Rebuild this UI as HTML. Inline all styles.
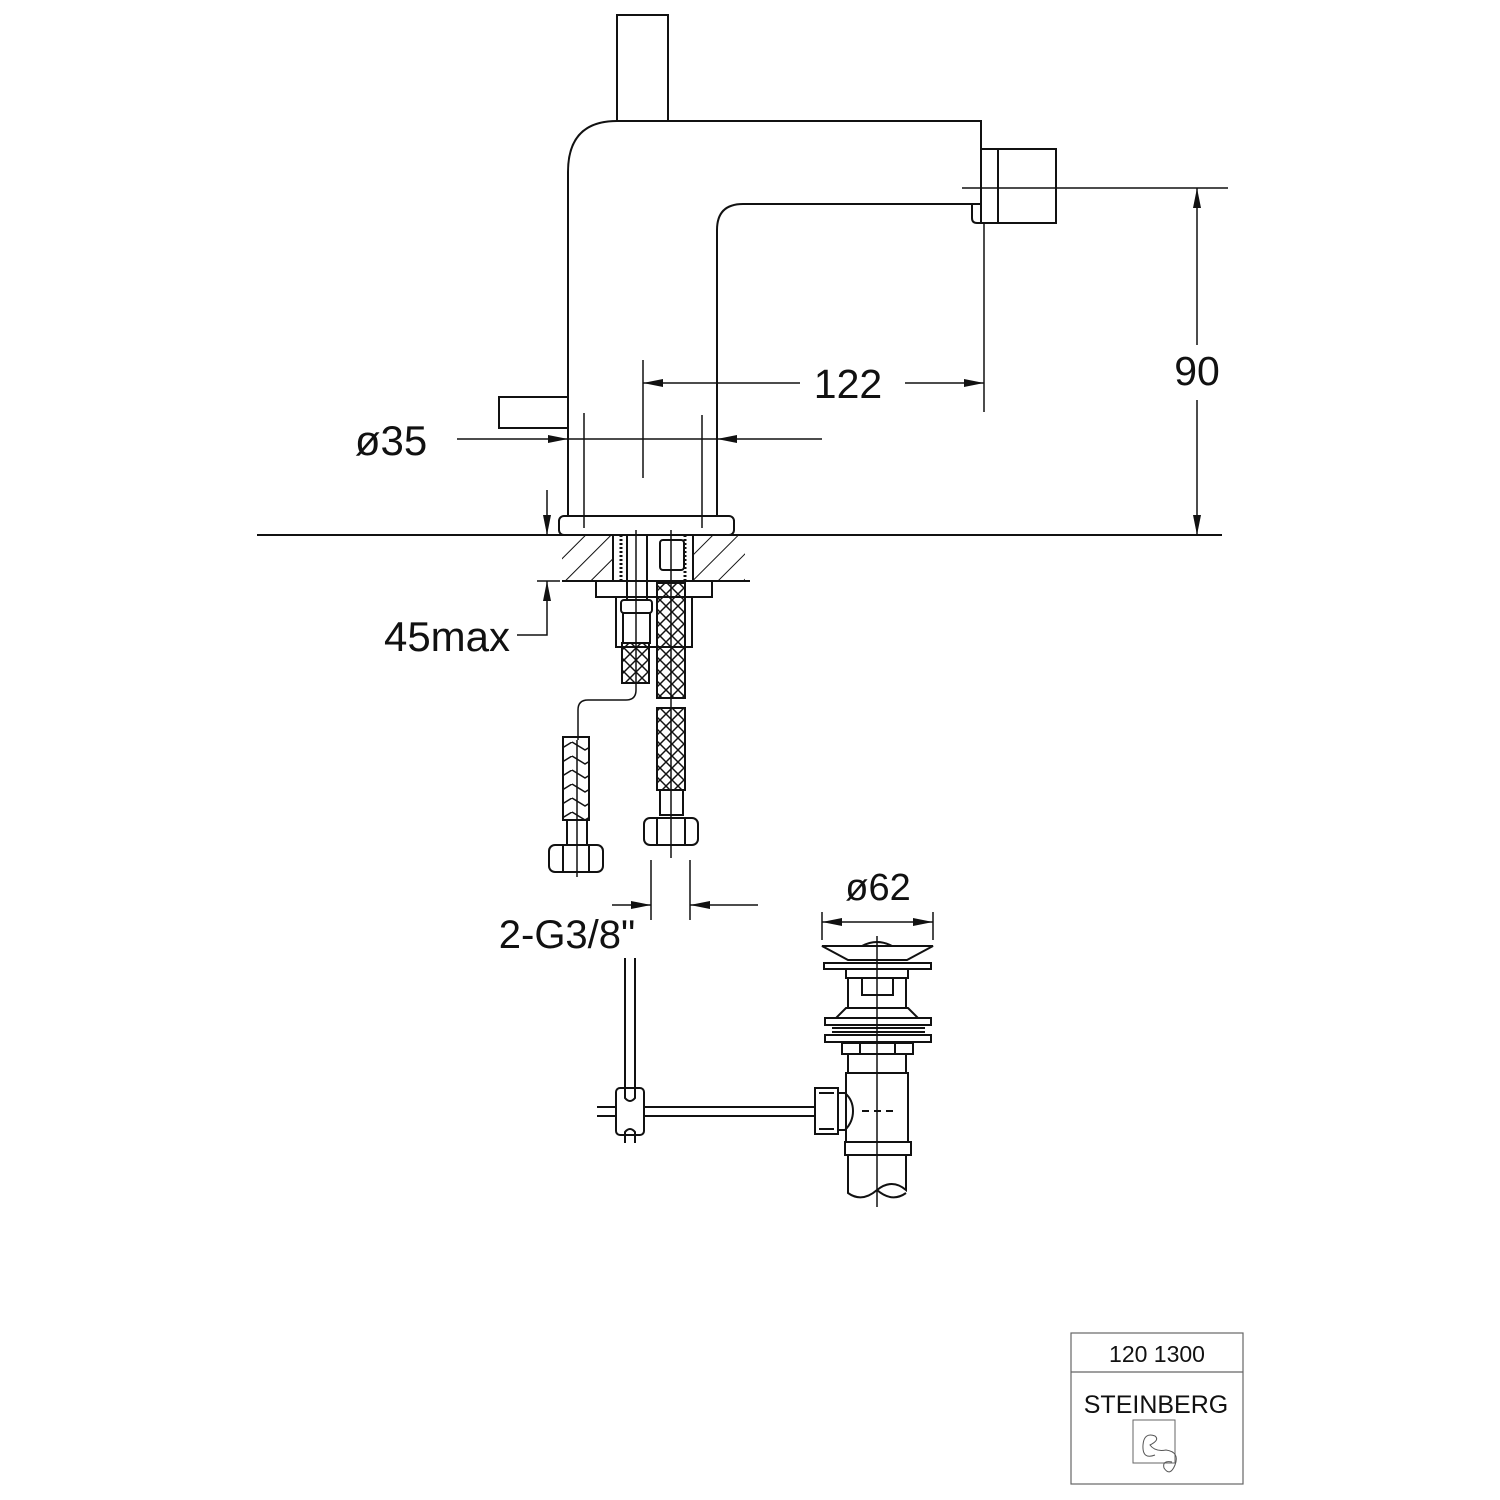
<!DOCTYPE html>
<html><head><style>html,body{margin:0;padding:0;background:#fff}svg{display:block}text{font-family:"Liberation Sans",sans-serif;fill:#111}</style></head>
<body>
<svg width="1500" height="1500" viewBox="0 0 1500 1500" xmlns="http://www.w3.org/2000/svg">
<defs>
<marker id="a" viewBox="0 0 20 8" refX="20" refY="4" markerWidth="20" markerHeight="8" markerUnits="userSpaceOnUse" orient="auto"><path d="M0,0L20,4L0,8z" fill="#111"/></marker>
<marker id="b" viewBox="0 0 20 8" refX="0" refY="4" markerWidth="20" markerHeight="8" markerUnits="userSpaceOnUse" orient="auto"><path d="M20,0L0,4L20,8z" fill="#111"/></marker>
<pattern id="x" width="12" height="12" patternUnits="userSpaceOnUse"><path d="M0,0L12,12M12,0L0,12" stroke="#111" stroke-width="1.5"/></pattern>
<pattern id="h" width="18" height="18" patternUnits="userSpaceOnUse" patternTransform="rotate(45)"><path d="M0,0V18" stroke="#111" stroke-width="2"/></pattern>
<pattern id="c" width="26" height="14" patternUnits="userSpaceOnUse"><path d="M0,0L13,8L26,0M0,14L13,22" stroke="#111" stroke-width="1.5" fill="none"/></pattern>
</defs>
<g fill="none" stroke="#111" stroke-width="2">
<rect x="617" y="15" width="51" height="106"/>
<path d="M568,516 V172 Q568,121 617,121 H981 V204 H743 Q717,204 717,230 V516"/>
<rect x="981" y="149" width="75" height="74"/>
<line x1="998" y1="149" x2="998" y2="223"/>
<path d="M972,204 V218 Q972,223 977,223 H998"/>
<rect x="499" y="397" width="69" height="31"/>
<rect x="559" y="516" width="175" height="19" rx="5"/>
<line x1="257" y1="535" x2="1222" y2="535"/>
<rect x="562" y="535" width="51" height="46" fill="url(#h)" stroke="none"/>
<rect x="693" y="535" width="52" height="46" fill="url(#h)" stroke="none"/>
<line x1="562" y1="581" x2="750" y2="581"/>
<line x1="613" y1="535" x2="613" y2="581"/><line x1="621" y1="535" x2="621" y2="581" stroke-dasharray="2 2" stroke-width="3"/>
<line x1="693" y1="535" x2="693" y2="581"/><line x1="685" y1="535" x2="685" y2="581" stroke-dasharray="2 2" stroke-width="3"/>
<rect x="596" y="581" width="116" height="16"/>
<rect x="616" y="597" width="76" height="50"/>
<line x1="627" y1="535" x2="627" y2="600"/><line x1="647" y1="535" x2="647" y2="600"/>
<rect x="621" y="600" width="31" height="13" rx="3"/>
<rect x="623" y="613" width="27" height="30"/>
<rect x="622" y="643" width="27" height="40" fill="url(#x)"/>
<path d="M636,530 V690 Q636,700 626,700 H588 Q578,700 578,710 V740" stroke-width="1.5"/>
<rect x="563" y="737" width="26" height="83" fill="url(#c)"/>
<rect x="567" y="820" width="20" height="25"/>
<rect x="549" y="845" width="54" height="27" rx="6"/>
<line x1="563" y1="845" x2="563" y2="872"/><line x1="589" y1="845" x2="589" y2="872"/>
<line x1="577" y1="740" x2="577" y2="877" stroke-width="1.5"/>
<rect x="660" y="540" width="24" height="30" rx="3"/>
<rect x="657" y="583" width="28" height="115" fill="url(#x)"/>
<rect x="657" y="708" width="28" height="82" fill="url(#x)"/>
<rect x="660" y="790" width="23" height="25"/>
<rect x="644" y="818" width="54" height="27" rx="6"/>
<line x1="657" y1="818" x2="657" y2="845"/><line x1="685" y1="818" x2="685" y2="845"/>
<line x1="671" y1="530" x2="671" y2="858" stroke-width="1.5"/>
<!-- dims -->
<line x1="962" y1="188" x2="1228" y2="188" stroke-width="1.5"/>
<line x1="1197" y1="345" x2="1197" y2="188" stroke-width="1.5" marker-end="url(#a)"/>
<line x1="1197" y1="400" x2="1197" y2="535" stroke-width="1.5" marker-end="url(#a)"/>
<line x1="984" y1="223" x2="984" y2="412" stroke-width="1.5"/>
<line x1="643" y1="360" x2="643" y2="478" stroke-width="1.5"/>
<line x1="800" y1="383" x2="643" y2="383" stroke-width="1.5" marker-end="url(#a)"/>
<line x1="905" y1="383" x2="984" y2="383" stroke-width="1.5" marker-end="url(#a)"/>
<line x1="584" y1="413" x2="584" y2="528" stroke-width="1.5"/>
<line x1="702" y1="415" x2="702" y2="528" stroke-width="1.5"/>
<line x1="457" y1="439" x2="568" y2="439" stroke-width="1.5" marker-end="url(#a)"/>
<line x1="568" y1="439" x2="717" y2="439" stroke-width="1.5"/>
<line x1="822" y1="439" x2="717" y2="439" stroke-width="1.5" marker-end="url(#a)"/>
<line x1="547" y1="490" x2="547" y2="535" stroke-width="1.5" marker-end="url(#a)"/>
<path d="M517,635 H547 V581" stroke-width="1.5" marker-end="url(#a)"/>
<line x1="537" y1="581" x2="560" y2="581" stroke-width="1.5"/>
<line x1="651" y1="860" x2="651" y2="920" stroke-width="1.5"/>
<line x1="690" y1="860" x2="690" y2="920" stroke-width="1.5"/>
<line x1="612" y1="905" x2="651" y2="905" stroke-width="1.5" marker-end="url(#a)"/>
<line x1="758" y1="905" x2="690" y2="905" stroke-width="1.5" marker-end="url(#a)"/>
<line x1="822" y1="912" x2="822" y2="940" stroke-width="1.5"/>
<line x1="933" y1="912" x2="933" y2="940" stroke-width="1.5"/>
<line x1="822" y1="922" x2="933" y2="922" stroke-width="1.5" marker-start="url(#b)" marker-end="url(#a)"/>
<line x1="625" y1="958" x2="625" y2="1092"/><line x1="635" y1="958" x2="635" y2="1092"/>
<rect x="616" y="1088" width="28" height="47" rx="4" fill="#fff"/>
<path d="M625,1088 V1098 Q630,1104 635,1098 V1088"/>
<path d="M625,1143 V1132 Q630,1126 635,1132 V1143"/>
<line x1="597" y1="1107" x2="616" y2="1107"/><line x1="597" y1="1116" x2="616" y2="1116"/>
<line x1="644" y1="1107" x2="815" y2="1107"/><line x1="644" y1="1116" x2="815" y2="1116"/>
<rect x="815" y="1088" width="23" height="46"/>
<line x1="819" y1="1093" x2="834" y2="1093"/><line x1="819" y1="1129" x2="834" y2="1129"/>
<path d="M838,1093 H845 Q853,1100 853,1111 Q853,1122 845,1130 H838"/>
<path d="M822,946 H933 L907,960 H848 Z"/>
<path d="M862,946 Q877,938 892,946"/>
<rect x="824" y="963" width="107" height="6"/>
<rect x="846" y="969" width="62" height="9"/>
<rect x="848" y="978" width="58" height="30"/>
<path d="M862,978 V995 H893 V978"/>
<path d="M846,1008 H908 L918,1018 H836 Z"/>
<rect x="825" y="1018" width="106" height="7"/>
<line x1="832" y1="1028" x2="925" y2="1028"/><line x1="832" y1="1032" x2="925" y2="1032"/>
<rect x="825" y="1035" width="106" height="7"/>
<rect x="842" y="1043" width="71" height="11"/>
<line x1="860" y1="1043" x2="860" y2="1054"/><line x1="895" y1="1043" x2="895" y2="1054"/>
<rect x="848" y="1054" width="58" height="19"/>
<rect x="846" y="1073" width="62" height="69"/>
<rect x="845" y="1142" width="66" height="13"/>
<path d="M848,1155 V1193 Q862,1203 877,1190 Q892,1178 906,1190 V1155"/>
<path d="M877,1190 Q892,1203 906,1193" />
<line x1="862" y1="1111" x2="895" y2="1111" stroke-dasharray="7 5"/>
<line x1="877" y1="936" x2="877" y2="1207" stroke-width="1.5"/>
<rect x="1071" y="1333" width="172" height="151" stroke-width="1.2" stroke="#666"/>
<line x1="1071" y1="1372" x2="1243" y2="1372" stroke-width="1.2" stroke="#666"/>
<rect x="1133" y="1420" width="42" height="43" stroke-width="1" stroke="#666"/>
<path d="M1155,1455 Q1142,1460 1143,1445 Q1144,1432 1155,1436 Q1160,1440 1150,1445 Q1155,1452 1166,1450 Q1180,1452 1175,1465 Q1170,1477 1164,1468 Q1162,1460 1172,1462" stroke-width="1" stroke="#555"/>
</g>
<text x="848" y="398" font-size="41" text-anchor="middle">122</text>
<text x="1197" y="385" font-size="41" text-anchor="middle">90</text>
<text x="391" y="455" font-size="42" text-anchor="middle">ø35</text>
<text x="447" y="651" font-size="42" text-anchor="middle">45max</text>
<text x="567" y="948" font-size="40" text-anchor="middle">2-G3/8"</text>
<text x="878" y="900" font-size="38" text-anchor="middle">ø62</text>
<text x="1157" y="1362" font-size="23" text-anchor="middle">120 1300</text>
<text x="1156" y="1413" font-size="25" text-anchor="middle" style="font-weight:300">STEINBERG</text>
</svg>
</body></html>
